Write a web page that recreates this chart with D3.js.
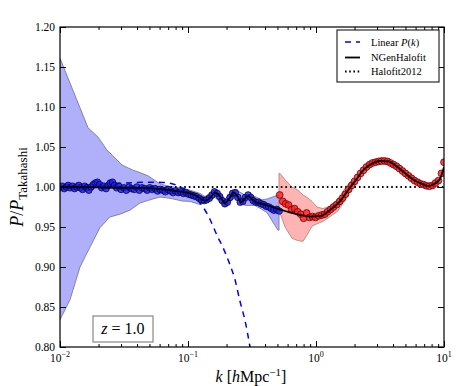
<!DOCTYPE html>
<html><head><meta charset="utf-8">
<script src="https://cdn.jsdelivr.net/npm/d3@7"></script>
<style>body{margin:0;background:#fff}svg{display:block}text{font-family:"Liberation Serif","DejaVu Serif",serif}</style>
</head><body><svg id="c" width="463" height="386"></svg>
<script>
// ---- data ----
const kBlue = [0.0100,0.0104,0.0108,0.0112,0.0116,0.0120,0.0125,0.0130,0.0135,0.0140,0.0145,0.0150,0.0156,0.0162,0.0168,0.0175,0.0182,0.0189,0.0196,0.0204,0.0212,0.0220,0.0229,0.0238,0.0247,0.0257,0.0267,0.0277,0.0288,0.0300,0.0315,0.0330,0.0346,0.0362,0.0380,0.0398,0.0417,0.0437,0.0458,0.0480,0.0503,0.0527,0.0552,0.0578,0.0606,0.0635,0.0665,0.0697,0.0730,0.0765,0.0801,0.0839,0.0879,0.0921,0.0965,0.101,0.106,0.111,0.116,0.122,0.128,0.134,0.140,0.147,0.154,0.161,0.169,0.177,0.185,0.194,0.203,0.213,0.223,0.234,0.245,0.256,0.268,0.281,0.295,0.309,0.323,0.339,0.355,0.372,0.390,0.408,0.428,0.448,0.469,0.492,0.515];
const vBlue = [0.999,1.001,0.998,1.000,1.002,0.999,1.001,0.998,1.000,1.002,0.999,0.997,1.001,0.999,0.996,1.000,1.003,1.005,1.006,1.003,0.999,1.001,0.998,1.002,1.005,1.006,1.002,0.999,1.001,0.997,0.999,0.996,1.000,0.998,0.997,1.000,0.996,0.999,0.998,0.996,0.999,0.997,0.998,0.995,0.997,0.996,0.994,0.997,0.995,0.993,0.995,0.993,0.994,0.992,0.993,0.991,0.990,0.989,0.988,0.986,0.984,0.983,0.984,0.986,0.990,0.994,0.992,0.988,0.983,0.979,0.981,0.987,0.992,0.993,0.987,0.981,0.982,0.987,0.990,0.987,0.983,0.981,0.981,0.979,0.978,0.976,0.975,0.973,0.971,0.972,0.970];
const kRed = [0.52,0.55,0.58,0.61,0.645,0.68,0.72,0.76,0.80,0.845,0.89,0.94,0.99,1.05,1.11,1.17,1.23,1.30,1.37,1.45,1.53,1.61,1.70,1.80,1.90,2.00,2.11,2.23,2.35,2.48,2.62,2.76,2.92,3.08,3.25,3.43,3.62,3.82,4.03,4.25,4.49,4.74,5.00,5.28,5.57,5.88,6.21,6.55,6.91,7.30,7.70,8.13,8.58,9.05,9.55,10.0];
const vRed = [0.990,0.982,0.979,0.9775,0.972,0.973,0.969,0.966,0.961,0.9675,0.962,0.963,0.962,0.964,0.965,0.966,0.969,0.972,0.975,0.978,0.982,0.986,0.991,0.997,1.002,1.007,1.012,1.017,1.021,1.025,1.028,1.030,1.031,1.032,1.0325,1.0325,1.032,1.030,1.028,1.026,1.023,1.020,1.017,1.014,1.011,1.008,1.006,1.004,1.003,1.0015,1.001,1.002,1.005,1.008,1.017,1.031];
const kNGen = [0.01,0.0205,0.0352,0.0553,0.0724,0.0898,0.113,0.136,0.150,0.163,0.178,0.194,0.211,0.228,0.244,0.260,0.276,0.294,0.315,0.340,0.378,0.453,0.573,0.75,0.89,1.07,1.28,1.54,1.78,2.1,2.34,2.72,3.16,3.66,4.28,4.98,5.72,6.7,7.5,8.5,9.3,9.7,10];
const vNGen = [1.000,0.9995,0.999,0.998,0.996,0.994,0.990,0.983,0.987,0.993,0.988,0.980,0.986,0.993,0.988,0.981,0.985,0.989,0.985,0.981,0.979,0.975,0.970,0.965,0.963,0.9635,0.971,0.982,0.996,1.011,1.021,1.029,1.0325,1.032,1.0255,1.017,1.0095,1.004,1.001,1.0045,1.010,1.018,1.025];
const kLinear = [0.01,0.0205,0.0322,0.058,0.075,0.09,0.104,0.118,0.131,0.148,0.168,0.188,0.213,0.233,0.254,0.278,0.305,0.33];
const vLinear = [1.001,1.003,1.005,1.006,1.004,0.999,0.993,0.984,0.975,0.960,0.940,0.924,0.9025,0.884,0.858,0.834,0.800,0.765];
const kHalofit = [0.01,10];
const vHalofit = [1.0,1.0];
const kBlueBandHi = [0.01,0.01197,0.01433,0.01655,0.0198,0.0233,0.0259,0.0305,0.0372,0.0421,0.0487,0.0553,0.0604,0.0698,0.0866,0.1037,0.1241,0.136,0.1626,0.1945,0.2327,0.278,0.333,0.378,0.414,0.505,0.514];
const vBlueBandHi = [1.161,1.130,1.099,1.074,1.0625,1.046,1.039,1.0275,1.021,1.018,1.014,1.008,1.004,1.001,0.999,0.996,0.992,0.988,0.997,0.985,0.997,0.990,0.988,0.984,0.985,0.990,0.990];
const kBlueBandLo = [0.01,0.01197,0.01433,0.01715,0.0205,0.0245,0.0294,0.0352,0.0421,0.0505,0.0604,0.0724,0.0898,0.1037,0.1241,0.1626,0.1945,0.2327,0.278,0.333,0.378,0.414,0.505,0.514];
const vBlueBandLo = [0.834,0.859,0.900,0.925,0.949,0.9625,0.966,0.971,0.980,0.984,0.9875,0.986,0.9825,0.982,0.978,0.987,0.975,0.987,0.977,0.977,0.972,0.968,0.946,0.946];
const kRedBandHi = [0.514,0.523,0.573,0.649,0.723,0.791,0.851,0.931,1.018,1.134,1.286,1.485,1.746,1.91];
const vRedBandHi = [1.017,1.017,1.009,1.000,0.996,0.990,0.987,0.982,0.975,0.973,0.976,0.985,1.002,1.008];
const kRedBandLo = [0.514,0.573,0.649,0.723,0.791,0.851,0.931,1.018,1.134,1.286,1.485,1.746,1.91];
const vRedBandLo = [0.971,0.950,0.936,0.933,0.932,0.940,0.951,0.954,0.957,0.963,0.970,0.988,0.998];
const yTicks = [0.80,0.85,0.90,0.95,1.00,1.05,1.10,1.15,1.20];
const xMajor = [0.01,0.1,1,10];
const xMajorExp = ["\u22122","\u22121","0","1"];
const legendLabels = ["Linear", "NGenHalofit", "Halofit2012"];

// ---- layout ----
const L=60,R=444,T=27,B=347;
const x = d3.scaleLog().domain([0.01,10]).range([L,R]);
const y = d3.scaleLinear().domain([0.8,1.2]).range([B,T]);
const svg = d3.select("#c");
svg.append("defs").append("clipPath").attr("id","clip").append("rect")
  .attr("x",L).attr("y",T).attr("width",R-L).attr("height",B-T);
const plot = svg.append("g").attr("clip-path","url(#clip)");

function band(kh,vh,kl,vl){
  const pts = kh.map((k,i)=>[k,vh[i]]);
  for(let i=kl.length-1;i>=0;i--) pts.push([kl[i],vl[i]]);
  return d3.line().x(d=>x(d[0])).y(d=>y(d[1]))(pts)+"Z";
}
plot.append("path").attr("d",band(kBlueBandHi,vBlueBandHi,kBlueBandLo,vBlueBandLo))
  .attr("fill","rgb(176,176,250)").attr("stroke","rgb(120,120,160)").attr("stroke-width",0.9);
plot.append("path").attr("d",band(kRedBandHi,vRedBandHi,kRedBandLo,vRedBandLo))
  .attr("fill","rgb(255,180,180)").attr("stroke","rgb(190,130,130)").attr("stroke-width",0.9);

const ln = d3.line().x(d=>x(d[0])).y(d=>y(d[1]));
plot.append("path").attr("d",ln(kHalofit.map((k,i)=>[k,vHalofit[i]])))
  .attr("fill","none").attr("stroke","#000").attr("stroke-width",2).attr("stroke-dasharray","1.6,3");
plot.append("path").attr("d",ln.curve(d3.curveMonotoneX)(kLinear.map((k,i)=>[k,vLinear[i]])))
  .attr("fill","none").attr("stroke","#0000ff").attr("stroke-width",1.5).attr("stroke-dasharray","6,5");

plot.selectAll("circle.b").data(kBlue.map((k,i)=>[k,vBlue[i]])).enter().append("circle")
  .attr("cx",d=>x(d[0])).attr("cy",d=>y(d[1])).attr("r",3.3)
  .attr("fill","rgb(30,30,240)").attr("fill-opacity",0.8).attr("stroke","#000050").attr("stroke-width",0.8);
plot.selectAll("circle.r").data(kRed.map((k,i)=>[k,vRed[i]])).enter().append("circle")
  .attr("cx",d=>x(d[0])).attr("cy",d=>y(d[1])).attr("r",3.4)
  .attr("fill","rgb(255,30,30)").attr("fill-opacity",0.8).attr("stroke","#700000").attr("stroke-width",0.8);

plot.append("path").attr("d",d3.line().x(d=>x(d[0])).y(d=>y(d[1])).curve(d3.curveMonotoneX)(kNGen.map((k,i)=>[k,vNGen[i]])))
  .attr("fill","none").attr("stroke","#000").attr("stroke-width",1.8);

// ---- axes ----
const minor = [];
[0.01,0.1,1].forEach(d=>{for(let m=2;m<=9;m++) minor.push(d*m);});
function styleAxis(g){g.select(".domain").remove();g.selectAll("line").attr("stroke","#000");}
svg.append("g").attr("transform",`translate(0,${B})`).call(d3.axisBottom(x).tickValues(xMajor).tickSize(-6).tickFormat("")).call(styleAxis);
svg.append("g").attr("transform",`translate(0,${B})`).call(d3.axisBottom(x).tickValues(minor).tickSize(-3).tickFormat("")).call(styleAxis);
svg.append("g").attr("transform",`translate(0,${T})`).call(d3.axisTop(x).tickValues(xMajor).tickSize(-6).tickFormat("")).call(styleAxis);
svg.append("g").attr("transform",`translate(0,${T})`).call(d3.axisTop(x).tickValues(minor).tickSize(-3).tickFormat("")).call(styleAxis);
const ya = svg.append("g").attr("transform",`translate(${L},0)`).call(d3.axisLeft(y).tickValues(yTicks).tickSize(-6).tickPadding(5).tickFormat(d3.format(".2f"))).call(styleAxis);
ya.selectAll("text").attr("font-size",11.5).attr("fill","#000").attr("font-family","Liberation Serif");
svg.append("g").attr("transform",`translate(${R},0)`).call(d3.axisRight(y).tickValues(yTicks).tickSize(-6).tickFormat("")).call(styleAxis);
svg.append("rect").attr("x",L).attr("y",T).attr("width",R-L).attr("height",B-T).attr("fill","none").attr("stroke","#000").attr("stroke-width",1.2);

xMajor.forEach((v,i)=>{
  const t = svg.append("text").attr("x",x(v)).attr("y",362).attr("text-anchor","middle").attr("font-size",11.5);
  t.append("tspan").text("10");
  t.append("tspan").attr("dy",-5).attr("font-size",8).text(xMajorExp[i]);
});

// axis labels
const xl = svg.append("text").attr("x",251).attr("y",382).attr("text-anchor","middle").attr("font-size",16);
xl.append("tspan").attr("font-style","italic").text("k");
xl.append("tspan").text(" [");
xl.append("tspan").attr("font-style","italic").text("h");
xl.append("tspan").text("Mpc");
xl.append("tspan").attr("dy",-6).attr("font-size",11).text("\u22121");
xl.append("tspan").attr("dy",6).text("]");

const yl = svg.append("text").attr("transform","translate(23,187) rotate(-90)").attr("text-anchor","middle").attr("font-size",18);
yl.append("tspan").attr("font-style","italic").text("P");
yl.append("tspan").text("/");
yl.append("tspan").attr("font-style","italic").text("P");
yl.append("tspan").attr("dy",4).attr("font-size",13).text("Takahashi");

// legend
svg.append("rect").attr("x",337).attr("y",30).attr("width",102).attr("height",52).attr("fill","#fff").attr("stroke","#000").attr("stroke-width",1);
const ly=[42,57.5,71.5];
svg.append("line").attr("x1",345).attr("x2",360).attr("y1",ly[0]).attr("y2",ly[0]).attr("stroke","#0000ff").attr("stroke-width",1.5).attr("stroke-dasharray","6,5");
svg.append("line").attr("x1",345).attr("x2",360).attr("y1",ly[1]).attr("y2",ly[1]).attr("stroke","#000").attr("stroke-width",1.8);
svg.append("line").attr("x1",345).attr("x2",360).attr("y1",ly[2]).attr("y2",ly[2]).attr("stroke","#000").attr("stroke-width",2).attr("stroke-dasharray","1.6,2.6");
legendLabels.forEach((s,i)=>{
  const t = svg.append("text").attr("x",371).attr("y",ly[i]+3.5).attr("font-size",10.5);
  t.append("tspan").text(s);
  if(i===0){ t.append("tspan").text(" "); t.append("tspan").attr("font-style","italic").text("P"); t.append("tspan").text("("); t.append("tspan").attr("font-style","italic").text("k"); t.append("tspan").text(")"); }
});

// z box
svg.append("rect").attr("x",93).attr("y",316).attr("width",60).attr("height",26).attr("fill","#fff").attr("stroke","#888").attr("stroke-width",1.2);
const zt = svg.append("text").attr("x",123).attr("y",334).attr("text-anchor","middle").attr("font-size",16);
zt.append("tspan").attr("font-style","italic").text("z");
zt.append("tspan").text(" = 1.0");
</script></body></html>
